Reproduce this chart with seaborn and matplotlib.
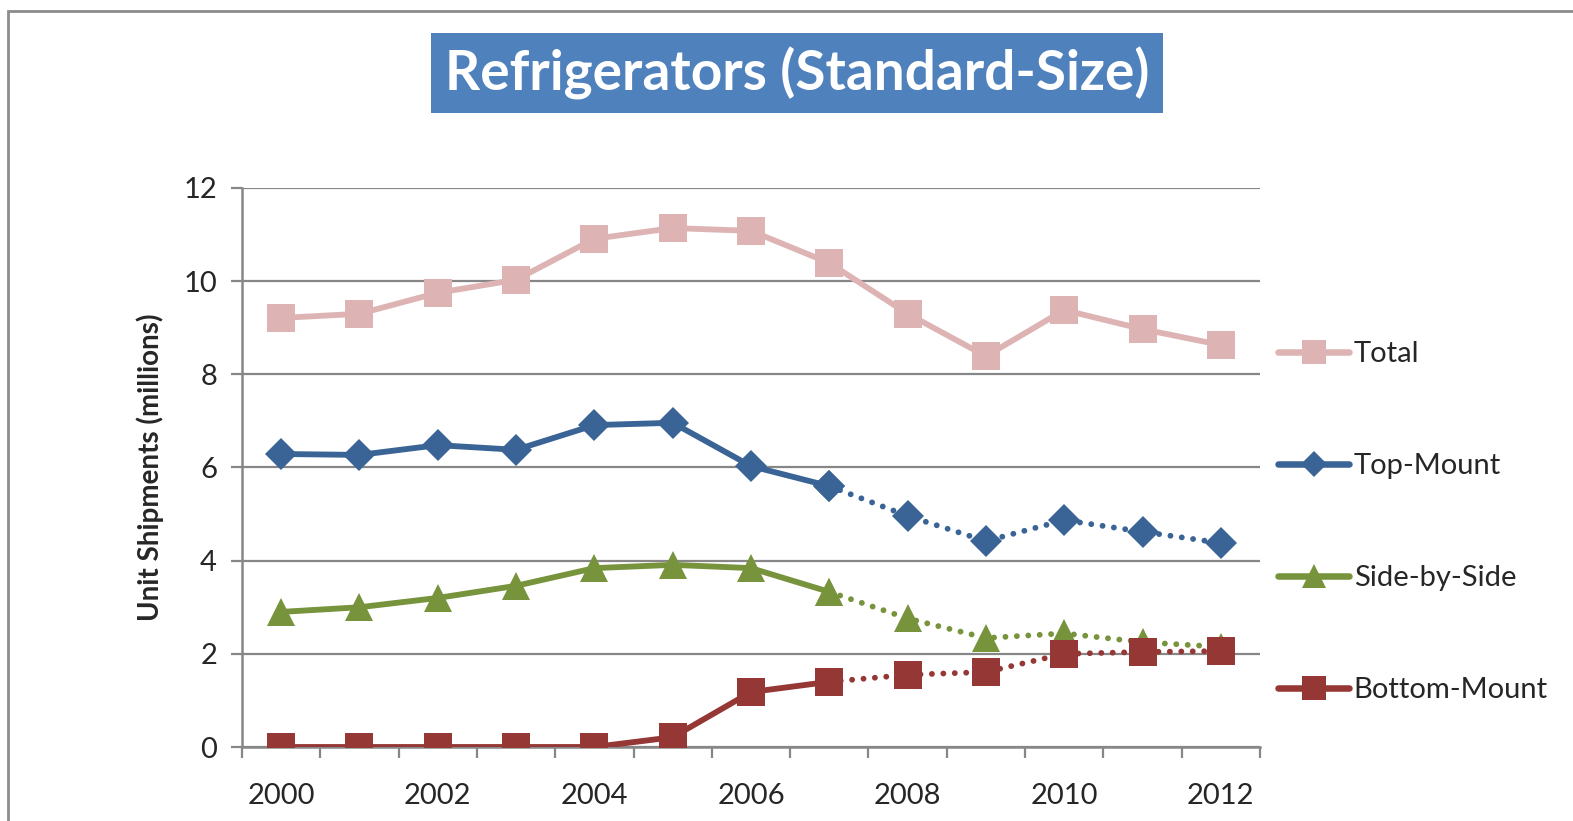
import matplotlib
matplotlib.use("Agg")
import matplotlib.pyplot as plt
from matplotlib.lines import Line2D
from matplotlib.patches import Rectangle
import seaborn as sns
import pandas as pd

# Data (millions of units)
years = list(range(2000, 2013))
total = [9.21, 9.30, 9.75, 10.03, 10.91, 11.14, 11.08, 10.39, 9.30, 8.39, 9.38, 8.97, 8.63]
top_mount = [6.29, 6.27, 6.48, 6.38, 6.91, 6.96, 6.03, 5.60, 4.96, 4.42, 4.87, 4.62, 4.38]
side_by_side = [2.90, 3.00, 3.20, 3.46, 3.84, 3.91, 3.84, 3.33, 2.76, 2.34, 2.44, 2.25, 2.15]
bottom_mount = [0.0, 0.0, 0.0, 0.0, 0.0, 0.21, 1.18, 1.40, 1.55, 1.61, 2.00, 2.04, 2.06]
series_names = ["Total", "Top-Mount", "Side-by-Side", "Bottom-Mount"]
y_ticks = [0, 2, 4, 6, 8, 10, 12]
last_actual = 2007  # after this year the three segments are drawn dotted

colors = {"Total": "#DDB4B3", "Top-Mount": "#3A6496",
          "Side-by-Side": "#77933C", "Bottom-Mount": "#953735"}
markers = {"Total": ("s", 20), "Top-Mount": ("D", 16),
           "Side-by-Side": ("^", 20), "Bottom-Mount": ("s", 20)}

df = pd.DataFrame({"year": years, "Total": total, "Top-Mount": top_mount,
                   "Side-by-Side": side_by_side, "Bottom-Mount": bottom_mount})
df["pos"] = range(len(df))

sns.set_style("white")
plt.rcParams["font.family"] = ["Lato", "DejaVu Sans"]

fig = plt.figure(figsize=(15.73, 8.21), dpi=100)
ax = fig.add_axes([242 / 1573, 1 - 747 / 821, (1260 - 242) / 1573, (747 - 188) / 821])

grey = "#878787"
lw = 4.2
dot = (0, (0.01, 1.95))

for name in series_names:
    m, ms = markers[name]
    c = colors[name]
    if name == "Total":
        parts = [(df, "-")]
    else:
        parts = [(df[df["year"] <= last_actual], "-"), (df[df["year"] >= last_actual], dot)]
    for part, ls in parts:
        sns.lineplot(data=part, x="pos", y=name, ax=ax, color=c, linewidth=lw,
                     linestyle=ls, dash_capstyle="round", marker=m, markersize=ms,
                     markeredgewidth=0, estimator=None, errorbar=None, sort=False,
                     zorder=3)

ax.set_xlim(-0.5, len(years) - 0.5)
ax.set_ylim(0, 12)
ax.set_yticks(y_ticks)
ax.set_yticklabels([str(t) for t in y_ticks], fontsize=21)
ax.yaxis.grid(True, color=grey, lw=1.6)
ax.set_axisbelow(True)

# category axis: ticks between categories, labels every other year
ax.set_xticks([i - 0.5 for i in range(len(years) + 1)])
ax.set_xticklabels([])
ax.set_xticks(list(range(0, len(years), 2)), minor=True)
ax.set_xticklabels([str(y) for y in years[::2]], minor=True, fontsize=21)
ax.tick_params(axis="x", which="major", direction="out", length=8, width=1.6, color=grey)
ax.tick_params(axis="x", which="minor", length=0, pad=26)
ax.tick_params(axis="y", direction="out", length=8, width=1.6, color=grey, pad=10)
ax.tick_params(bottom=True, left=True)

for s in ["top", "right"]:
    ax.spines[s].set_visible(False)
for s in ["left", "bottom"]:
    ax.spines[s].set_color(grey)
    ax.spines[s].set_linewidth(1.8)

ax.set_xlabel("")
ax.set_ylabel("Unit Shipments (millions)", fontsize=20, fontweight="bold", labelpad=14)

handles = [Line2D([0], [0], color=colors[n], lw=lw + 0.5, marker=markers[n][0],
                  markersize=markers[n][1] * 0.85, markeredgewidth=0,
                  solid_capstyle="round") for n in series_names]
fig.legend(handles, series_names, loc="upper left",
           bbox_to_anchor=(1278 / 1573, 1 - 341 / 821), frameon=False,
           fontsize=21, handlelength=2.45, handletextpad=0.15, labelspacing=2.95,
           borderpad=0, borderaxespad=0)

# title box
fig.text(797 / 1573, 1 - 73 / 821, "Refrigerators (Standard-Size)", color="white",
         fontsize=39.5, fontweight="bold", ha="center", va="center",
         bbox=dict(boxstyle="square,pad=0.25", facecolor="#4F81BD", edgecolor="none"))

# chart border (cropped at right and bottom)
fig.patches.append(Rectangle((8 / 1573, -0.05), 1.1, 1 - 11 / 821 + 0.05,
                             transform=fig.transFigure, fill=False,
                             edgecolor="#8C8C8C", lw=2))

fig.savefig("out.png", dpi=100)
